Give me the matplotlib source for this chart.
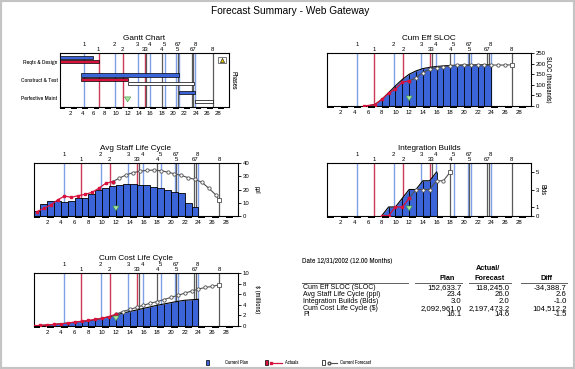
import matplotlib
matplotlib.use('Agg')
import matplotlib.pyplot as plt
from matplotlib import font_manager
from matplotlib.patches import Rectangle
from matplotlib.lines import Line2D
from matplotlib.transforms import blended_transform_factory

names = {f.name for f in font_manager.fontManager.ttflist}
FONT = 'Liberation Sans'
NARROW = 'Archivo Narrow' if 'Archivo Narrow' in names else 'Liberation Sans'
plt.rcParams['font.family'] = [FONT, 'DejaVu Sans']

# ---- data ----
month_ticks = list(range(2, 30, 2))
X_MAX = 29.8
DATE_MONTH = 12

# milestones (month of each vertical line)
plan_ms = [4.4, 9.75, 13.8, 15.9, 18.5, 20.6, 21.0, 23.9]
actual_ms = [6.9, 11.1, 15.0]
fcst_ms = [15.3, 18.0, 20.8, 23.3, 23.6, 27.0]
plan_ms_labels = ['1', '2', '3', '4', '5', '67', '8']
plan_ms_label_x = [4.4, 9.75, 13.8, 15.9, 18.5, 20.8, 23.9]
fcst_ms_labels = ['1', '2', '33', '4', '5', '67', '8']
fcst_ms_label_x = [6.9, 11.1, 15.15, 18.0, 20.8, 23.45, 27.0]

# gantt
phases = ['Reqts & Design', 'Construct & Test', 'Perfective Maint']
plan_start = [0, 3.7, 21.0]
plan_end = [5.9, 21.0, 23.9]
actual_start = [0, 3.7]
actual_end = [6.9, 12.0]
fcst_rows = [1, 2]
fcst_start = [12.0, 23.9]
fcst_end = [23.7, 27.0]

# cum eff sloc (thousands)
sloc_plan_m = list(range(6, 25))
sloc_plan = [0, 6, 30, 62, 95, 125, 150, 166, 177, 183, 187, 190, 192, 193, 194, 194, 195, 195, 195]
sloc_act_m = [5.4, 6, 7, 8, 9, 10, 11, 12]
sloc_act = [0, 0, 5, 30, 60, 80, 112, 118]
sloc_fc_m = list(range(12, 27)) + [27.0]
sloc_fc = [118, 134, 158, 174, 182, 186, 190, 193, 194, 194, 194, 194, 194, 194, 194, 195]

# avg staff (ppl), one bar per month 0..23
staff_plan = [3.6, 8.9, 11.2, 11.2, 10.7, 11.2, 13.2, 13.2, 16.6, 19.6, 20.9, 22.7,
              23.4, 24.2, 24.2, 23.7, 23.2, 22.2, 20.9, 19.6, 18.3, 17.1, 9.9, 6.4]
staff_act_m = [m + 0.5 for m in range(12)]
staff_act = [3.1, 5.6, 8.2, 12.0, 15.0, 14.0, 15.3, 16.3, 17.8, 20.9, 24.7, 26.0]
staff_fc_m = [m + 0.5 for m in range(11, 27)] + [27.0]
staff_fc = [26, 28.7, 31.2, 32.9, 34.0, 34.6, 34.8, 34.4, 33.3, 32.0, 30.8, 29.0,
            27.7, 25.5, 21.0, 16.0, 11.8]

# integration builds
blds_plan_m = [8, 9, 10, 11, 12, 13, 14, 15, 16]
blds_plan = [0, 1, 1, 2, 3, 3, 4, 4, 5]
blds_act_m = [8, 9, 10, 11, 12]
blds_act = [0, 0, 1, 1, 2]
blds_fc_m = [12, 13, 14, 15, 16, 17, 18]
blds_fc = [2, 3, 3, 3, 4, 4, 5]

# cum cost ($ millions)
cost_plan_m = list(range(0, 25))
cost_plan = [0, 0.05, 0.13, 0.25, 0.38, 0.5, 0.64, 0.8, 0.95, 1.15, 1.4, 1.7, 2.05,
             2.4, 2.7, 3.0, 3.3, 3.6, 3.9, 4.15, 4.4, 4.65, 4.85, 4.95, 5.03]
cost_act_m = list(range(0, 13))
cost_act = [0, 0.05, 0.15, 0.25, 0.35, 0.5, 0.7, 0.85, 1.0, 1.2, 1.45, 1.75, 2.2]
cost_fc_m = list(range(12, 27)) + [27.0]
cost_fc = [2.2, 2.7, 3.1, 3.5, 3.9, 4.3, 4.6, 5.0, 5.4, 5.8, 6.2, 6.6, 7.0, 7.3, 7.5, 7.8]

# summary table
tbl_rows = ['Cum Eff SLOC (SLOC)', 'Avg Staff Life Cycle (ppl)', 'Integration Builds (Blds)',
            'Cum Cost Life Cycle ($)', 'PI']
tbl_plan = ['152,633.7', '23.4', '3.0', '2,092,961.0', '16.1']
tbl_fcst = ['118,245.0', '26.0', '2.0', '2,197,473.2', '14.6']
tbl_diff = ['-34,388.7', '2.6', '-1.0', '104,512.2', '-1.5']

# ---- style ----
BLUE = '#3b64d8'
RED = '#d8123c'
GRAY = '#505050'
MS_BLUE = '#7f9fe6'
MS_RED = '#cc3a58'
MS_GRAY = '#5a5a5a'
TICK_FS = 4.3
MS_FS = 4.3
TITLE_FS = 5.9

W, H = 575, 369
fig = plt.figure(figsize=(W / 100, H / 100), dpi=100)
fig.patch.set_facecolor('white')
renderer = fig.canvas.get_renderer()


def fit_size(s, width_px, **kw):
    # font size that makes text s about width_px wide
    t = fig.text(0, 0, s, fontsize=10, **kw)
    w = t.get_window_extent(renderer=renderer).width
    t.remove()
    return 10 * width_px / w


def px_axes(l, t, r, b):
    return fig.add_axes([l / W, 1 - b / H, (r - l) / W, (b - t) / H])


def ftext(x, y, s, **kw):
    fig.text(x / W, 1 - y / H, s, **kw)


def px_rect(x, y, w, h, **kw):
    fig.add_artist(Rectangle((x / W, 1 - (y + h) / H), w / W, h / H,
                             transform=fig.transFigure, **kw))


def setup_panel(ax, title, h_px):
    ax.set_xlim(0, X_MAX)
    for s in ax.spines.values():
        s.set_linewidth(0.8)
    ax.set_xticks(month_ticks)
    ax.tick_params(axis='x', length=0, labelsize=TICK_FS, pad=3.4)
    ax.yaxis.tick_right()
    ax.tick_params(axis='y', length=2, width=0.6, labelsize=TICK_FS, pad=1.2)
    ax.annotate(title, xy=(0.5, 1), xycoords='axes fraction', xytext=(0, 11.0),
                textcoords='offset points', ha='center', va='center', fontsize=TITLE_FS)
    for x, s in zip(plan_ms_label_x, plan_ms_labels):
        ax.annotate(s, xy=(x, 1), xycoords=('data', 'axes fraction'), xytext=(0, 6.6),
                    textcoords='offset points', ha='center', va='center', fontsize=MS_FS)
    for x, s in zip(fcst_ms_label_x, fcst_ms_labels):
        ax.annotate(s, xy=(x, 1), xycoords=('data', 'axes fraction'), xytext=(0, 2.6),
                    textcoords='offset points', ha='center', va='center', fontsize=MS_FS)
    for x in plan_ms:
        ax.axvline(x, color=MS_BLUE, lw=1.0, zorder=1)
    for x in actual_ms:
        ax.axvline(x, color=MS_RED, lw=1.0, zorder=1)
    for x in fcst_ms:
        ax.axvline(x, color=MS_GRAY, lw=0.9, zorder=1)
    trans = blended_transform_factory(ax.transData, ax.transAxes)
    frac = 2.5 / h_px
    for k in range(15):
        ax.add_patch(Rectangle((2 * k, -frac), 1, frac, transform=trans, color='black',
                               lw=0, clip_on=False, zorder=6))
    ax.annotate('', xy=(DATE_MONTH, 0.04), xytext=(DATE_MONTH, 0.17), xycoords=trans,
                textcoords=trans,
                arrowprops=dict(arrowstyle='simple,head_width=0.9,head_length=0.7,tail_width=0.4',
                                fc='#a6e6a0', ec='#3c8c3c', lw=0.4, mutation_scale=5),
                zorder=7)


def plot_act_fc(ax, am, av, fm, fv):
    ax.plot(fm, fv, color=GRAY, lw=0.8, marker='o', ms=2.4, mfc='white', mec=GRAY,
            mew=0.6, markevery=list(range(len(fm) - 1)), zorder=5)
    ax.plot(fm[-1], fv[-1], marker='s', ms=2.8, mfc='white', mec=GRAY, mew=0.6, zorder=5)
    ax.plot(am, av, color=RED, lw=0.9, marker='s', ms=2.0, mfc=RED, mec=RED, zorder=5)


RL_FS = fit_size('SLOC (thousands)', 47, family=NARROW)


def right_label(x, y, s):
    ftext(x, y, s, rotation=270, ha='center', va='center', fontsize=RL_FS, family=NARROW)


# ---- gantt ----
ax = px_axes(59.5, 53.3, 228.7, 106.7)
setup_panel(ax, 'Gantt Chart', 53.4)
ax.set_ylim(2.5, -0.5)
ax.yaxis.tick_left()
ax.set_yticks(range(len(phases)))
ax.set_yticklabels(phases, family=NARROW, fontsize=fit_size(phases[0], 34.5, family=NARROW))
ax.tick_params(axis='y', length=0, pad=1.5, right=False)
bh = 0.18
for i, (s, e) in enumerate(zip(plan_start, plan_end)):
    ax.barh(i - 0.28, e - s, left=s, height=bh, color=BLUE, edgecolor='black', lw=0.5, zorder=3)
for i, (s, e) in enumerate(zip(actual_start, actual_end)):
    ax.barh(i - 0.05, e - s, left=s, height=bh, color=RED, edgecolor='black', lw=0.5, zorder=3)
for i, s, e in zip(fcst_rows, fcst_start, fcst_end):
    ax.barh(i + 0.2, e - s, left=s, height=bh, color='white', edgecolor='black', lw=0.5, zorder=3)
right_label(234, 80, 'Phases')
px_rect(218.3, 56.7, 8, 6, facecolor='white', edgecolor='#404040', lw=0.5)
fig.add_artist(Line2D([222.3 / W], [1 - 59.7 / H], marker='^', ms=3, mfc='#f2d200',
                      mec='black', mew=0.4, transform=fig.transFigure))

# ---- cum eff sloc ----
ax = px_axes(327, 53.3, 531, 105.7)
setup_panel(ax, 'Cum Eff SLOC', 52.4)
ax.set_ylim(0, 250)
ax.set_yticks(range(0, 251, 50))
ax.fill_between(sloc_plan_m, sloc_plan, color=BLUE, lw=0, zorder=2)
ax.plot(sloc_plan_m, sloc_plan, color='black', lw=0.8, zorder=3)
ax.vlines(sloc_plan_m, 0, sloc_plan, color='black', lw=0.6, zorder=3)
plot_act_fc(ax, sloc_act_m, sloc_act, sloc_fc_m, sloc_fc)
right_label(548, 79.5, 'SLOC (thousands)')

# ---- avg staff ----
ax = px_axes(33.5, 163.3, 238.3, 215.7)
setup_panel(ax, 'Avg Staff Life Cycle', 52.4)
ax.set_ylim(0, 40)
ax.set_yticks(range(0, 41, 10))
ax.bar([m + 0.5 for m in range(len(staff_plan))], staff_plan, width=1, color=BLUE,
       edgecolor='black', lw=0.6, zorder=2)
plot_act_fc(ax, staff_act_m, staff_act, staff_fc_m, staff_fc)
right_label(257, 189.5, 'ppl')

# ---- integration builds ----
ax = px_axes(327, 163.3, 531, 215.7)
setup_panel(ax, 'Integration Builds', 52.4)
ax.set_ylim(0, 6)
ax.set_yticks([0, 1, 3, 5])
ax.fill_between(blds_plan_m, blds_plan, color=BLUE, lw=0, zorder=2)
ax.plot(blds_plan_m, blds_plan, color='black', lw=0.8, zorder=3)
ax.vlines(blds_plan_m, 0, blds_plan, color='black', lw=0.6, zorder=3)
plot_act_fc(ax, blds_act_m, blds_act, blds_fc_m, blds_fc)
right_label(542.5, 189.5, 'Blds')

# ---- cum cost ----
ax = px_axes(33.5, 273.3, 238.3, 325.7)
setup_panel(ax, 'Cum Cost Life Cycle', 52.4)
ax.set_ylim(0, 10)
ax.set_yticks(range(0, 11, 2))
ax.fill_between(cost_plan_m, cost_plan, color=BLUE, lw=0, zorder=2)
ax.plot(cost_plan_m, cost_plan, color='black', lw=0.8, zorder=3)
ax.vlines(cost_plan_m, 0, cost_plan, color='black', lw=0.6, zorder=3)
plot_act_fc(ax, cost_act_m, cost_act, cost_fc_m, cost_fc)
right_label(257, 299.5, '$ (millions)')

# ---- title ----
ftext(290, 11, 'Forecast Summary - Web Gateway', ha='center', va='center', fontsize=7.3)

# ---- table ----
TBL_FS = 5.0
NUM_FS = 5.6
HDR_FS = 5.2
date_txt = 'Date 12/31/2002 (12.00 Months)'
ftext(301.5, 260.7, date_txt, ha='left', va='center', family=NARROW, fontweight='bold',
      fontsize=fit_size(date_txt, 90, family=NARROW, fontweight='bold'))
ftext(487.7, 268.3, 'Actual/', ha='center', va='center', fontsize=HDR_FS, fontweight='bold')
ftext(446.7, 278.3, 'Plan', ha='center', va='center', fontsize=HDR_FS, fontweight='bold')
ftext(489.5, 278.3, 'Forecast', ha='center', va='center', fontsize=HDR_FS, fontweight='bold')
ftext(546.7, 278.3, 'Diff', ha='center', va='center', fontsize=HDR_FS, fontweight='bold')
for x0, x1 in [(302.3, 408.3), (415, 462.3), (469, 510.7), (520.7, 566.7)]:
    fig.add_artist(Line2D([x0 / W, x1 / W], [1 - 283.3 / H] * 2, color='#606060', lw=0.7,
                          transform=fig.transFigure))
row_y = [287.7, 294.6, 301.5, 308.3, 315.0]
for y, r, p, f, d in zip(row_y, tbl_rows, tbl_plan, tbl_fcst, tbl_diff):
    ftext(303, y, r, ha='left', va='center', fontsize=TBL_FS)
    ftext(461.7, y, p, ha='right', va='center', fontsize=NUM_FS)
    ftext(509.5, y, f, ha='right', va='center', fontsize=NUM_FS)
    ftext(566.7, y, d, ha='right', va='center', fontsize=NUM_FS)

# ---- legend ----
ly = 362.7
LEG_FS = fit_size('Current Plan', 23.5, family=NARROW)
px_rect(205.8, ly - 2.5, 2.8, 5, facecolor=BLUE, edgecolor='black', lw=0.5)
ftext(225, ly, 'Current Plan', ha='left', va='center', fontsize=LEG_FS, family=NARROW)
px_rect(265, ly - 2.5, 2.8, 5, facecolor=RED, edgecolor='black', lw=0.5)
fig.add_artist(Line2D([271 / W, 282 / W], [1 - ly / H] * 2, color=RED, lw=0.9,
                      marker='s', ms=2, markevery=[0], transform=fig.transFigure))
ftext(285, ly, 'Actuals', ha='left', va='center', fontsize=LEG_FS, family=NARROW)
px_rect(322, ly - 2.5, 2.8, 5, facecolor='white', edgecolor='black', lw=0.5)
fig.add_artist(Line2D([329 / W, 337 / W], [1 - ly / H] * 2, color=GRAY, lw=0.8,
                      marker='o', ms=2, mfc='white', mec=GRAY, markevery=[0],
                      transform=fig.transFigure))
ftext(340, ly, 'Current Forecast', ha='left', va='center', fontsize=LEG_FS, family=NARROW)

# frame
fig.add_artist(Rectangle((0, 0), 1, 1, transform=fig.transFigure, fill=False,
                         edgecolor='#c4c4c4', lw=3))

fig.savefig('out.png', dpi=100)
